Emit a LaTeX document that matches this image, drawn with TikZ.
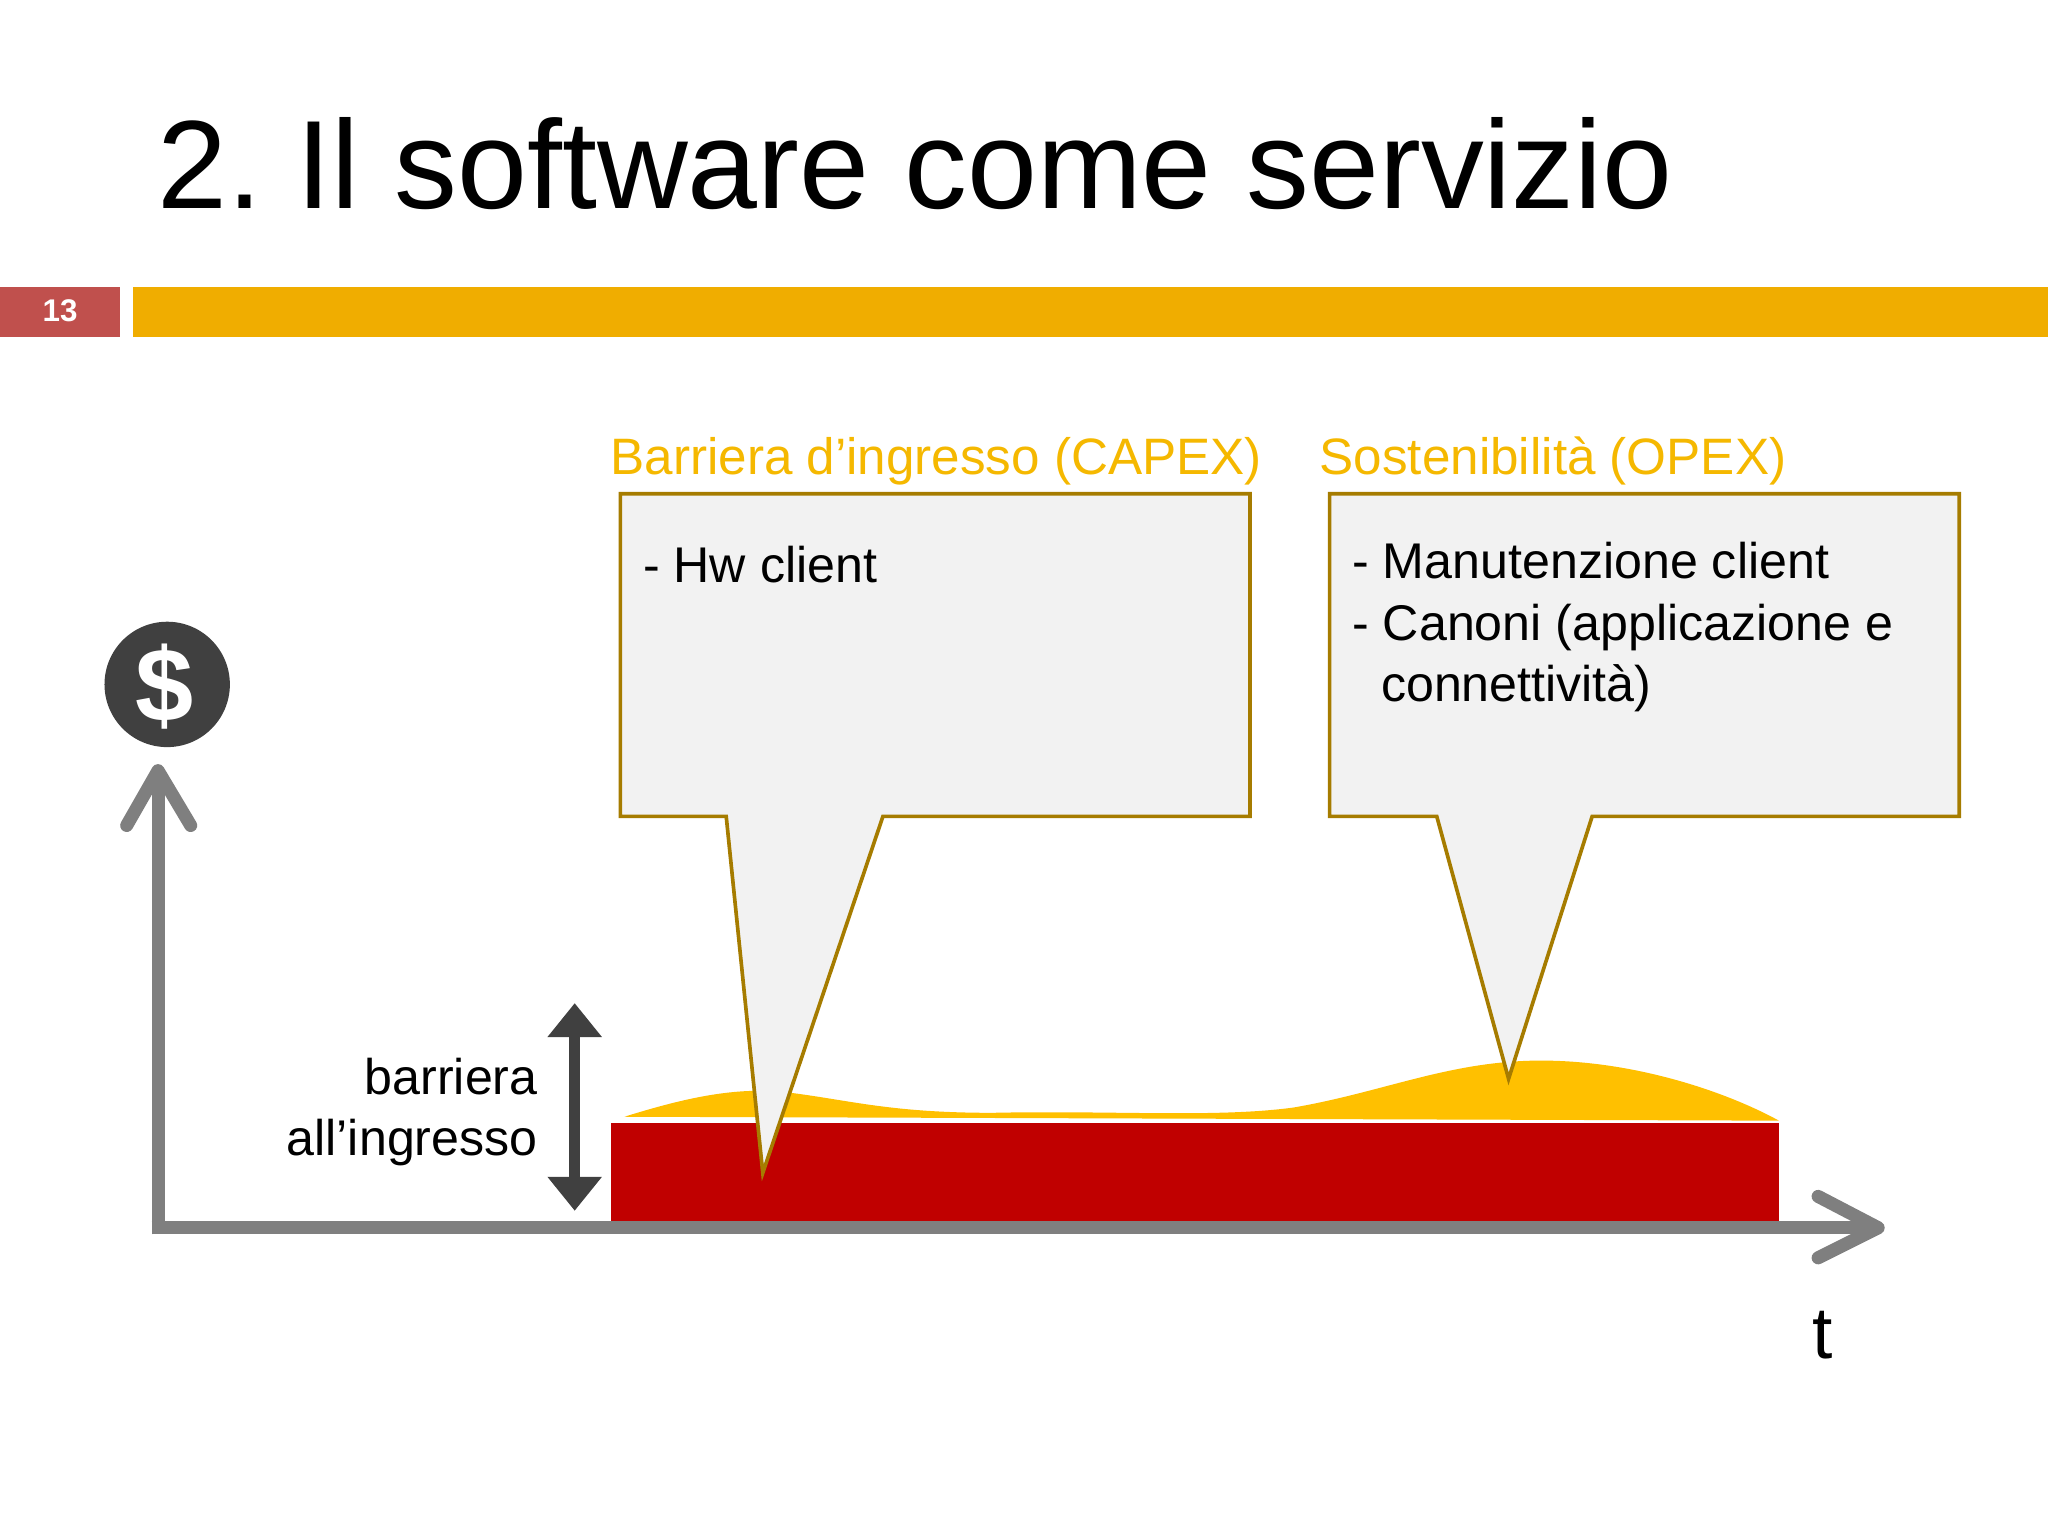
\documentclass[tikz,border=0pt]{standalone}
\usepackage{fontspec}
\setmainfont{Liberation Sans}
\usetikzlibrary{arrows.meta}
\definecolor{gold}{HTML}{F0AD00}
\definecolor{lab}{HTML}{F5B800}
\definecolor{bord}{HTML}{A67C00}
\definecolor{hill}{HTML}{FFC000}
\definecolor{darkred}{HTML}{C00000}
\definecolor{numred}{HTML}{C0504D}
\definecolor{axis}{HTML}{7F7F7F}
\frenchspacing
\begin{document}
\begin{tikzpicture}[x=0.5pt,y=-0.5pt,
  call/.style={fill=black!5,draw=bord,line width=1.4pt,line join=miter},
  body/.style={font=\fontsize{19.2}{23}\selectfont,anchor=base west,inner sep=0},
  ax/.style={draw=axis,line width=5pt}]
\useasboundingbox[fill=white] (0,0) rectangle (1568,1176);
\node[anchor=base west,inner sep=0,font=\fontsize{48.1}{56}\selectfont] (title) at (120,160) {2. Il software come servizio};
\fill[numred] (0,220) rectangle (92,258);
\node[text=white,font=\bfseries\fontsize{12}{14}\selectfont] (num) at (46,238) {13};
\fill[gold] (102,220) rectangle (1568,258);
% hill and bar
\fill[hill] (478,855) .. controls (520,842) and (560,832) .. (600,836)
  .. controls (650,842) and (680,852) .. (760,852)
  .. controls (850,850) and (930,856) .. (990,848)
  .. controls (1060,836) and (1110,812) .. (1180,812)
  .. controls (1250,812) and (1320,835) .. (1362,858) -- cycle;
\fill[darkred] (468,860) rectangle (1362,935);
% axes
\draw[ax] (121,945) -- (121,592);
\draw[ax,line cap=round,line join=round] (97,632) -- (121,590) -- (146,632);
\draw[ax] (116,940) -- (1436,940);
\draw[ax,line cap=round,line join=round] (1392,916) -- (1438,940) -- (1392,963);
% callouts
\draw[call] (475,378) -- (957,378) -- (957,625) -- (676,625) -- (584,898) -- (556,625) -- (475,625) -- cycle;
\draw[call] (1018,378) -- (1500,378) -- (1500,625) -- (1219,625) -- (1155,826) -- (1100,625) -- (1018,625) -- cycle;
\node[anchor=base west,inner sep=0,text=lab,font=\fontsize{19.6}{24}\selectfont] (l1) at (467,363) {Barriera d’ingresso (CAPEX)};
\node[anchor=base west,inner sep=0,text=lab,font=\fontsize{19.6}{24}\selectfont] (l2) at (1010,363) {Sostenibilità (OPEX)};
\node[body] (t1) at (492,446) {- Hw client};
\node[body] (t2) at (1035,443) {- Manutenzione client};
\node[body] (t3) at (1035,490) {- Canoni (applicazione e};
\node[body] (t4) at (1057,537) {connettività)};
% dollar
\fill[black!75] (128,524) circle[radius=48];
\node[text=white,font=\bfseries\fontsize{40}{44}\selectfont] (d) at (126,526) {\$};
% double arrow
\draw[black!75,line width=4pt,{Triangle[width=20pt,length=13pt]}-{Triangle[width=20pt,length=13pt]}] (440,768) -- (440,927);
\node[anchor=base east,inner sep=0,font=\fontsize{19.2}{23}\selectfont] (b1) at (412,838) {barriera};
\node[anchor=base east,inner sep=0,font=\fontsize{19.2}{23}\selectfont] (b2) at (412,885) {all’ingresso};
\node[anchor=base west,inner sep=0,font=\fontsize{28}{32}\selectfont] (t) at (1387,1040) {t};
\end{tikzpicture}
\end{document}
